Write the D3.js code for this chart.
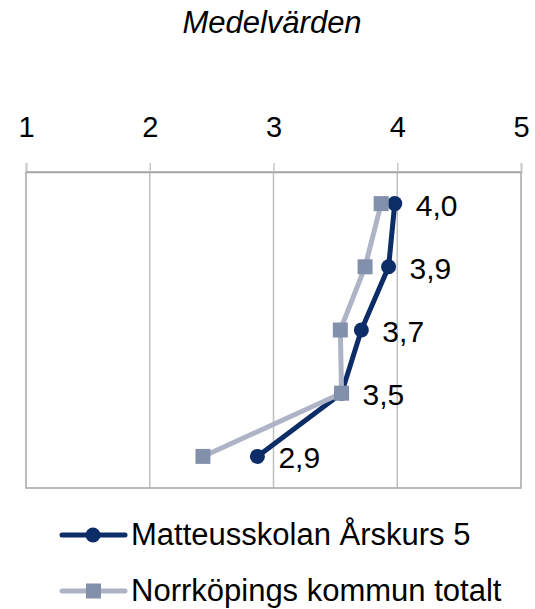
<!DOCTYPE html>
<html>
<head>
<meta charset="utf-8">
<script src="https://cdn.jsdelivr.net/npm/d3@7"></script>
<style>
  body { margin: 0; background: #fff; }
  text { font-family: "Liberation Sans", Arial, sans-serif; fill: #000; }
</style>
</head>
<body>
<svg id="canvas"></svg>
<script>
// Data
const categories = ["Q1", "Q2", "Q3", "Q4", "Q5"];
const schoolValues = [3.98, 3.93, 3.71, 3.55, 2.87];
const municipalityValues = [3.87, 3.74, 3.54, 3.55, 2.43];
const valueLabels = ["4,0", "3,9", "3,7", "3,5", "2,9"];
const xTicks = [1, 2, 3, 4, 5];
const seriesNames = ["Matteusskolan Årskurs 5", "Norrköpings kommun totalt"];

const width = 535, height = 609;
const margin = { top: 172, right: 14, bottom: 121, left: 26 };

const svg = d3.select("#canvas").attr("width", width).attr("height", height);

const x = d3.scaleLinear().domain([1, 5]).range([margin.left, width - margin.right]);
const y = d3.scaleBand().domain(categories).range([margin.top, height - margin.bottom]);

// Title
svg.append("text")
   .attr("x", 272).attr("y", 33)
   .attr("text-anchor", "middle")
   .attr("font-size", "31px")
   .attr("font-style", "italic")
   .text("Medelvärden");

// Gridlines
svg.append("g").selectAll("line")
   .data(xTicks.slice(1, -1))
   .enter().append("line")
   .attr("x1", d => x(d)).attr("x2", d => x(d))
   .attr("y1", margin.top).attr("y2", height - margin.bottom)
   .attr("stroke", "#c0c0c0").attr("stroke-width", 1.5);

// Plot border
svg.append("rect")
   .attr("x", margin.left).attr("y", margin.top)
   .attr("width", width - margin.left - margin.right)
   .attr("height", height - margin.top - margin.bottom)
   .attr("fill", "none").attr("stroke", "#a6a6a6").attr("stroke-width", 1.5);

// Top axis
const axis = svg.append("g")
   .attr("transform", `translate(0,${margin.top})`)
   .call(d3.axisTop(x).tickValues(xTicks).tickSize(9).tickPadding(26).tickFormat(d3.format("d")));
axis.select(".domain").attr("stroke", "#a6a6a6").attr("stroke-width", 1.5);
axis.selectAll(".tick line").attr("stroke", "#c8c8c8").attr("stroke-width", 1.5);
axis.selectAll(".tick text").attr("font-size", "29px").attr("font-family", "Liberation Sans, Arial, sans-serif").attr("fill", "#000");

const cy = d => y(d) + y.bandwidth() / 2;
const lineGen = d3.line().x(d => x(d.v)).y(d => cy(d.c));

const schoolPts = categories.map((c, i) => ({ c, v: schoolValues[i] }));
const munPts = categories.map((c, i) => ({ c, v: municipalityValues[i] }));

const blue = "#0c2d67", greyLine = "#aeb4c6", greyFill = "#8390ab";

// School series (drawn first)
svg.append("path").datum(schoolPts)
   .attr("d", lineGen).attr("fill", "none")
   .attr("stroke", blue).attr("stroke-width", 5);
svg.append("g").selectAll("circle").data(schoolPts).enter().append("circle")
   .attr("cx", d => x(d.v)).attr("cy", d => cy(d.c)).attr("r", 7.5)
   .attr("fill", blue);

// Municipality series
svg.append("path").datum(munPts)
   .attr("d", lineGen).attr("fill", "none")
   .attr("stroke", greyLine).attr("stroke-width", 5);
svg.append("g").selectAll("rect").data(munPts).enter().append("rect")
   .attr("x", d => x(d.v) - 7.5).attr("y", d => cy(d.c) - 7.5)
   .attr("width", 15).attr("height", 15)
   .attr("fill", greyFill);

// Value labels
svg.append("g").selectAll("text").data(schoolPts).enter().append("text")
   .attr("x", d => x(d.v) + 21).attr("y", d => cy(d.c) + 12)
   .attr("font-size", "30px")
   .text((d, i) => valueLabels[i]);

// Legend
const legend = svg.append("g");
const legendRows = [
  { name: seriesNames[0], color: blue, mark: "circle", y: 535 },
  { name: seriesNames[1], color: greyLine, mark: "rect", y: 591 }
];
legendRows.forEach(r => {
  legend.append("line").attr("x1", 62).attr("x2", 125)
     .attr("y1", r.y).attr("y2", r.y)
     .attr("stroke", r.color).attr("stroke-width", 5).attr("stroke-linecap", "round");
  if (r.mark === "circle") {
    legend.append("circle").attr("cx", 93).attr("cy", r.y).attr("r", 7.5).attr("fill", blue);
  } else {
    legend.append("rect").attr("x", 86).attr("y", r.y - 7.5).attr("width", 15).attr("height", 15).attr("fill", greyFill);
  }
  legend.append("text").attr("x", 131).attr("y", r.y + 10)
     .attr("font-size", "31px").text(r.name);
});
</script>
</body>
</html>
